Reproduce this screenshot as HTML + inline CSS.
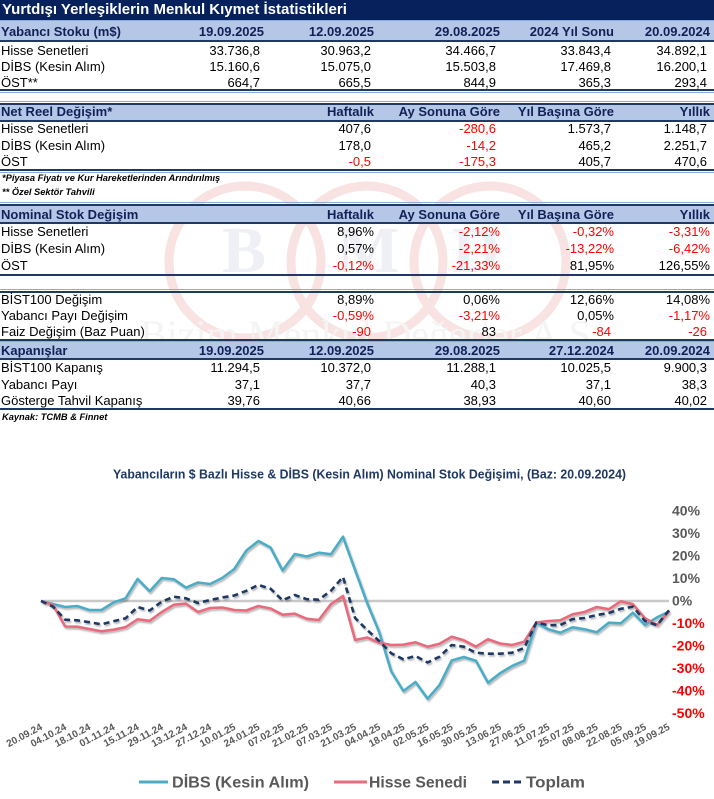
<!DOCTYPE html>
<html><head><meta charset="utf-8">
<style>
html,body{margin:0;padding:0;background:#fff;}
#pg{position:relative;width:714px;height:799px;overflow:hidden;background:#fff;font-family:"Liberation Sans",Arial,sans-serif;}
.bar{position:absolute;left:0;width:714px;}
.row{position:absolute;left:0;width:714px;height:16px;line-height:16px;font-size:13px;color:#000;white-space:nowrap;}
.row span{position:absolute;}
.l{left:1px;}
.hd{font-weight:bold;color:#0f2257;}
.c1{right:454px}.c2{right:343px}.c3{right:218px}.c4{right:103px}.c5{right:7px}
.h1{right:450px}.h2{right:340px}.h3{right:214px}.h4{right:100px}.h5{right:4px}
.r{color:#ff0000;}
.fn{position:absolute;left:2px;font-size:9.3px;font-weight:bold;font-style:italic;line-height:12px;height:12px;white-space:nowrap;color:#000;}
.dk{background:#1f3864;}
.lt{background:#8eaadb;}
.fill{background:#b4c7e7;}
</style></head><body><div id="pg">

<!-- watermark -->
<svg style="position:absolute;left:0;top:0" width="714" height="430">
  <g fill="none" stroke="#f8e2e2" stroke-width="9">
    <circle cx="245" cy="262" r="76"/>
    <circle cx="367" cy="262" r="76"/>
    <circle cx="490" cy="262" r="76"/>
  </g>
  <g font-family="Liberation Serif,serif" font-weight="bold" font-size="66" fill="#eef0f5">
    <text x="222" y="272">B</text>
    <text x="337" y="272">M</text>
    <text x="452" y="272">D</text>
  </g>
  <text x="140" y="348" font-family="Liberation Serif,serif" font-size="40" fill="#f4f4f4">Bizim Menkul Değerler A.Ş.</text>
</svg>

<!-- Title bar -->
<div class="bar" style="top:0;height:20px;background:#06215c;"></div>
<div style="position:absolute;left:2px;top:0;height:20px;line-height:20px;font-size:15px;font-weight:bold;color:#fff;white-space:nowrap;">Yurtdışı Yerleşiklerin Menkul Kıymet İstatistikleri</div>

<!-- Section 1 -->
<div class="bar lt" style="top:20px;height:1px"></div>
<div class="bar fill" style="top:21px;height:19px"></div>
<div class="bar dk" style="top:40px;height:2px"></div>
<div class="row hd" style="top:23.7px"><span class="l">Yabancı Stoku (m$)</span><span class="h1">19.09.2025</span><span class="h2">12.09.2025</span><span class="h3">29.08.2025</span><span class="h4">2024 Yıl Sonu</span><span class="h5">20.09.2024</span></div>
<div class="row" style="top:43px"><span class="l">Hisse Senetleri</span><span class="c1">33.736,8</span><span class="c2">30.963,2</span><span class="c3">34.466,7</span><span class="c4">33.843,4</span><span class="c5">34.892,1</span></div>
<div class="row" style="top:59px"><span class="l">DİBS (Kesin Alım)</span><span class="c1">15.160,6</span><span class="c2">15.075,0</span><span class="c3">15.503,8</span><span class="c4">17.469,8</span><span class="c5">16.200,1</span></div>
<div class="row" style="top:75.3px"><span class="l">ÖST**</span><span class="c1">664,7</span><span class="c2">665,5</span><span class="c3">844,9</span><span class="c4">365,3</span><span class="c5">293,4</span></div>
<div class="bar dk" style="top:88.5px;height:2px"></div>
<div class="bar lt" style="top:91.5px;height:1px"></div>

<!-- Section 2 -->
<div class="bar lt" style="top:101px;height:1px"></div>
<div class="bar dk" style="top:103px;height:2px"></div>
<div class="bar fill" style="top:105px;height:15px"></div>
<div class="bar dk" style="top:120px;height:2px"></div>
<div class="row hd" style="top:104.2px"><span class="l">Net Reel Değişim*</span><span class="h2">Haftalık</span><span class="h3">Ay Sonuna Göre</span><span class="h4">Yıl Başına Göre</span><span class="h5">Yıllık</span></div>
<div class="row" style="top:121.2px"><span class="l">Hisse Senetleri</span><span class="c2">407,6</span><span class="c3 r">-280,6</span><span class="c4">1.573,7</span><span class="c5">1.148,7</span></div>
<div class="row" style="top:138px"><span class="l">DİBS (Kesin Alım)</span><span class="c2">178,0</span><span class="c3 r">-14,2</span><span class="c4">465,2</span><span class="c5">2.251,7</span></div>
<div class="row" style="top:154.2px"><span class="l">ÖST</span><span class="c2 r">-0,5</span><span class="c3 r">-175,3</span><span class="c4">405,7</span><span class="c5">470,6</span></div>
<div class="bar dk" style="top:169px;height:2px"></div>
<div class="bar lt" style="top:172.3px;height:1px"></div>
<div class="fn" style="top:171.7px">*Piyasa Fiyatı ve Kur Hareketlerinden Arındırılmış</div>
<div class="fn" style="top:185.7px">** Özel Sektör Tahvili</div>

<!-- Section 3 -->
<div class="bar lt" style="top:202px;height:1px"></div>
<div class="bar dk" style="top:204.3px;height:2px"></div>
<div class="bar fill" style="top:206.3px;height:16px"></div>
<div class="bar dk" style="top:222.3px;height:2px"></div>
<div class="row hd" style="top:206.5px"><span class="l">Nominal Stok Değişim</span><span class="h2">Haftalık</span><span class="h3">Ay Sonuna Göre</span><span class="h4">Yıl Başına Göre</span><span class="h5">Yıllık</span></div>
<div class="row" style="top:224.2px"><span class="l">Hisse Senetleri</span><span class="h2">8,96%</span><span class="h3 r">-2,12%</span><span class="h4 r">-0,32%</span><span class="h5 r">-3,31%</span></div>
<div class="row" style="top:241px"><span class="l">DİBS (Kesin Alım)</span><span class="h2">0,57%</span><span class="h3 r">-2,21%</span><span class="h4 r">-13,22%</span><span class="h5 r">-6,42%</span></div>
<div class="row" style="top:258.3px"><span class="l">ÖST</span><span class="h2 r">-0,12%</span><span class="h3 r">-21,33%</span><span class="h4">81,95%</span><span class="h5">126,55%</span></div>
<div class="bar dk" style="top:274px;height:2px"></div>

<div class="bar lt" style="top:289px;height:1px"></div>
<div class="bar dk" style="top:291px;height:2px"></div>
<div class="row" style="top:291.7px"><span class="l">BİST100 Değişim</span><span class="h2">8,89%</span><span class="h3">0,06%</span><span class="h4">12,66%</span><span class="h5">14,08%</span></div>
<div class="row" style="top:308.3px"><span class="l">Yabancı Payı Değişim</span><span class="h2 r">-0,59%</span><span class="h3 r">-3,21%</span><span class="h4">0,05%</span><span class="h5 r">-1,17%</span></div>
<div class="row" style="top:324.2px"><span class="l">Faiz Değişim (Baz Puan)</span><span class="c2 r">-90</span><span class="c3">83</span><span class="c4 r">-84</span><span class="c5 r">-26</span></div>

<!-- Section 4 -->
<div class="bar dk" style="top:339px;height:2px"></div>
<div class="bar lt" style="top:341.3px;height:1px"></div>
<div class="bar fill" style="top:342.3px;height:16px"></div>
<div class="bar dk" style="top:358.3px;height:2px"></div>
<div class="row hd" style="top:343.2px"><span class="l">Kapanışlar</span><span class="h1">19.09.2025</span><span class="h2">12.09.2025</span><span class="h3">29.08.2025</span><span class="h4">27.12.2024</span><span class="h5">20.09.2024</span></div>
<div class="row" style="top:359.8px"><span class="l">BİST100 Kapanış</span><span class="c1">11.294,5</span><span class="c2">10.372,0</span><span class="c3">11.288,1</span><span class="c4">10.025,5</span><span class="c5">9.900,3</span></div>
<div class="row" style="top:377.3px"><span class="l">Yabancı Payı</span><span class="c1">37,1</span><span class="c2">37,7</span><span class="c3">40,3</span><span class="c4">37,1</span><span class="c5">38,3</span></div>
<div class="row" style="top:393.3px"><span class="l">Gösterge Tahvil Kapanış</span><span class="c1">39,76</span><span class="c2">40,66</span><span class="c3">38,93</span><span class="c4">40,60</span><span class="c5">40,02</span></div>
<div class="bar dk" style="top:407.7px;height:2px"></div>
<div class="fn" style="top:410.7px">Kaynak: TCMB &amp; Finnet</div>

<!-- Chart -->
<svg style="position:absolute;left:0;top:0" width="714" height="799" font-family="Liberation Sans, Arial, sans-serif">
  <defs>
    <filter id="sh" x="-5%" y="-5%" width="110%" height="120%">
      <feDropShadow dx="1.2" dy="1.8" stdDeviation="0.8" flood-color="#000" flood-opacity="0.28"/>
    </filter>
  </defs>
  <text x="113" y="478.3" font-size="12.5" font-weight="bold" fill="#1f3864" textLength="513" lengthAdjust="spacingAndGlyphs">Yabancıların $ Bazlı Hisse &amp; DİBS (Kesin Alım) Nominal Stok Değişimi, (Baz: 20.09.2024)</text>

  <line x1="41" y1="601" x2="669" y2="601" stroke="#c9c9c9" stroke-width="2.5"/>

  <g fill="none" stroke-width="2.6" stroke-linejoin="round" filter="url(#sh)">
    <polyline stroke="#4bacc6" points="41,601 53.1,604 65.2,607 77.2,606 89.3,610 101.4,610 113.5,602.5 125.6,598.3 137.6,579 149.7,591.3 161.8,578 173.9,579.3 186,587.7 198,582.5 210.1,584 222.2,578 234.3,569 246.4,550.5 258.4,541 270.5,547.5 282.6,570.5 294.7,554 306.8,556.5 318.8,552.7 330.9,554.3 343,536.7 355.1,570 367.2,603 379.2,632 391.3,671.5 403.4,691 415.5,682 427.6,698.7 439.6,685 451.7,660.5 463.8,657 475.9,660.7 488,682.7 500,673.3 512.1,666 524.2,660.7 536.3,622.7 548.4,629.3 560.4,632.7 572.5,627.3 584.6,629.3 596.7,632.3 608.8,622.7 620.8,623.3 632.9,612.7 645,625 657.1,617.3 669.2,611.5"/>
    <polyline stroke="#e96b7c" points="41,601 53.1,605 65.2,626.5 77.2,626.7 89.3,629 101.4,631.3 113.5,629.7 125.6,627.2 137.6,619.3 149.7,620.8 161.8,612 173.9,604.7 186,603.7 198,612 210.1,608 222.2,607.5 234.3,610 246.4,610.5 258.4,606 270.5,608.5 282.6,614.7 294.7,613.7 306.8,618.8 318.8,620 330.9,604.2 343,596 355.1,640 367.2,637.5 379.2,642.7 391.3,645 403.4,644.7 415.5,642.3 427.6,646.7 439.6,643.7 451.7,636.7 463.8,640.3 475.9,646.7 488,639.2 500,643.5 512.1,645 524.2,641.7 536.3,622.5 548.4,621 560.4,620.3 572.5,614.3 584.6,612 596.7,607 608.8,609.2 620.8,601.3 632.9,604.2 645,618.3 657.1,625 669.2,611"/>
    <polyline stroke="#1f3864" stroke-dasharray="6,4" points="41,601 53.1,606.7 65.2,619.7 77.2,620.3 89.3,622.2 101.4,624.3 113.5,621.2 125.6,618.3 137.6,607 149.7,610.5 161.8,601.7 173.9,596.7 186,598.3 198,603 210.1,600 222.2,597.5 234.3,595.5 246.4,590.8 258.4,585 270.5,588.7 282.6,600.3 294.7,595 306.8,599.2 318.8,599.7 330.9,590.8 343,577 355.1,618 367.2,630 379.2,641 391.3,653.3 403.4,659.3 415.5,656 427.6,662.5 439.6,656.7 451.7,645 463.8,646.7 475.9,652.7 488,653.7 500,653.7 512.1,652.7 524.2,648 536.3,622.5 548.4,625.3 560.4,625 572.5,619.2 584.6,618 596.7,615 608.8,613 620.8,608.8 632.9,606.7 645,621 657.1,625.3 669.2,610"/>
  </g>

  <g font-size="14" font-weight="bold">
    <text x="672" y="515.5" fill="#595959">40%</text>
    <text x="672" y="538" fill="#595959">30%</text>
    <text x="672" y="560.5" fill="#595959">20%</text>
    <text x="672" y="583" fill="#595959">10%</text>
    <text x="672" y="605.5" fill="#595959">0%</text>
    <text x="672" y="628" fill="#ff0000">-10%</text>
    <text x="672" y="650.5" fill="#ff0000">-20%</text>
    <text x="672" y="673" fill="#ff0000">-30%</text>
    <text x="672" y="695.5" fill="#ff0000">-40%</text>
    <text x="672" y="718" fill="#ff0000">-50%</text>
  </g>

  <g font-size="10" font-weight="bold" fill="#595959" text-anchor="end">
    <text transform="translate(43,729) rotate(-28)">20.09.24</text>
    <text transform="translate(67.2,729) rotate(-28)">04.10.24</text>
    <text transform="translate(91.3,729) rotate(-28)">18.10.24</text>
    <text transform="translate(115.5,729) rotate(-28)">01.11.24</text>
    <text transform="translate(139.6,729) rotate(-28)">15.11.24</text>
    <text transform="translate(163.8,729) rotate(-28)">29.11.24</text>
    <text transform="translate(188,729) rotate(-28)">13.12.24</text>
    <text transform="translate(212.1,729) rotate(-28)">27.12.24</text>
    <text transform="translate(236.3,729) rotate(-28)">10.01.25</text>
    <text transform="translate(260.4,729) rotate(-28)">24.01.25</text>
    <text transform="translate(284.6,729) rotate(-28)">07.02.25</text>
    <text transform="translate(308.8,729) rotate(-28)">21.02.25</text>
    <text transform="translate(332.9,729) rotate(-28)">07.03.25</text>
    <text transform="translate(357.1,729) rotate(-28)">21.03.25</text>
    <text transform="translate(381.2,729) rotate(-28)">04.04.25</text>
    <text transform="translate(405.4,729) rotate(-28)">18.04.25</text>
    <text transform="translate(429.6,729) rotate(-28)">02.05.25</text>
    <text transform="translate(453.7,729) rotate(-28)">16.05.25</text>
    <text transform="translate(477.9,729) rotate(-28)">30.05.25</text>
    <text transform="translate(502,729) rotate(-28)">13.06.25</text>
    <text transform="translate(526.2,729) rotate(-28)">27.06.25</text>
    <text transform="translate(550.4,729) rotate(-28)">11.07.25</text>
    <text transform="translate(574.5,729) rotate(-28)">25.07.25</text>
    <text transform="translate(598.7,729) rotate(-28)">08.08.25</text>
    <text transform="translate(622.8,729) rotate(-28)">22.08.25</text>
    <text transform="translate(647,729) rotate(-28)">05.09.25</text>
    <text transform="translate(670.5,729) rotate(-28)">19.09.25</text>
  </g>

  <g font-size="16" font-weight="bold" fill="#595959">
    <line x1="139" y1="782" x2="168" y2="782" stroke="#4bacc6" stroke-width="3"/>
    <text x="172" y="787.3" textLength="137" lengthAdjust="spacingAndGlyphs">DİBS (Kesin Alım)</text>
    <line x1="334" y1="782" x2="367" y2="782" stroke="#e96b7c" stroke-width="3"/>
    <text x="369" y="787.3" textLength="98" lengthAdjust="spacingAndGlyphs">Hisse Senedi</text>
    <line x1="492" y1="782" x2="521" y2="782" stroke="#1f3864" stroke-width="3" stroke-dasharray="7,4"/>
    <text x="526" y="787.3" textLength="59" lengthAdjust="spacingAndGlyphs">Toplam</text>
  </g>
</svg>

</div></body></html>
